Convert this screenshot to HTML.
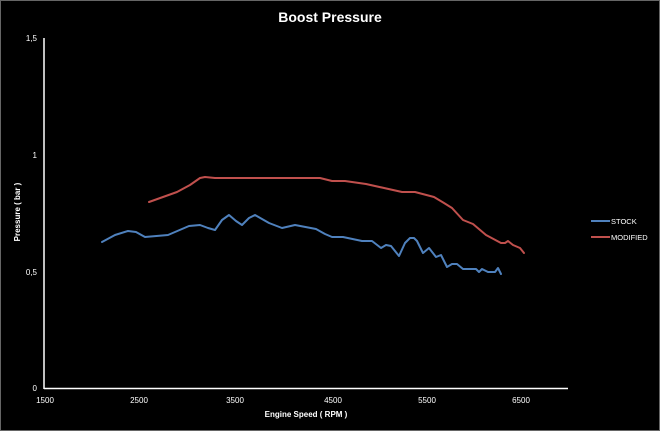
<!DOCTYPE html>
<html><head><style>
body{margin:0;background:#000;}
svg{display:block;font-family:"Liberation Sans",sans-serif;}
</style></head><body>
<svg width="660" height="431" viewBox="0 0 660 431">
<rect x="0" y="0" width="660" height="431" fill="#000"/>
<rect x="0.5" y="0.5" width="659" height="430" fill="none" stroke="#666" stroke-width="1"/>
<text x="330" y="22" fill="#fff" font-size="14" font-weight="bold" text-anchor="middle">Boost Pressure</text>
<line x1="44" y1="38" x2="44" y2="389" stroke="#fff" stroke-width="1.5"/>
<line x1="44" y1="388.5" x2="568" y2="388.5" stroke="#fff" stroke-width="1.5"/>
<g fill="#fff" font-size="8" text-anchor="end">
<text x="37" y="41">1,5</text>
<text x="37" y="158">1</text>
<text x="37" y="275">0,5</text>
<text x="37" y="391">0</text>
</g>
<g fill="#fff" font-size="8" text-anchor="middle">
<text x="45" y="403">1500</text>
<text x="139" y="403">2500</text>
<text x="235" y="403">3500</text>
<text x="333" y="403">4500</text>
<text x="427" y="403">5500</text>
<text x="521" y="403">6500</text>
</g>
<text x="306" y="417" fill="#fff" font-size="8" font-weight="bold" text-anchor="middle">Engine Speed ( RPM )</text>
<text transform="translate(20,212) rotate(-90)" fill="#fff" font-size="8" font-weight="bold" text-anchor="middle">Pressure ( bar )</text>
<polyline fill="none" stroke="#c0504d" stroke-width="2" stroke-linejoin="round" stroke-linecap="round" points="149,202 177,192 190,185 200,178 205,177 215,178 320,178 332,181 345,181 366,184 402,192 415,192 434,197 444,203 452,208 463,220 473,224 486,235 501,243 505,243 508,241 513,245 520,248 524,253"/>
<polyline fill="none" stroke="#4f81bd" stroke-width="2" stroke-linejoin="round" stroke-linecap="round" points="102,242 115,235 128,231 136,232 145,237 168,235 189,226 200,225 208,228 215,230 222,220 229,215 236,221 242,225 249,218 255,215 262,219 269,223 282,228 295,225 316,229 325,234 332,237 343,237 362,241 372,241 381,248 386,245 391,246 399,256 405,243 410,238 414,238 417,241 423,253 429,248 436,257 441,255 447,267 452,264 457,264 463,269 476,269 479,272 482,269 488,272 495,272 498,268 501,274"/>
<line x1="591" y1="221" x2="610" y2="221" stroke="#4f81bd" stroke-width="2"/>
<text x="611" y="224" fill="#fff" font-size="7.5">STOCK</text>
<line x1="591" y1="237" x2="610" y2="237" stroke="#c0504d" stroke-width="2"/>
<text x="611" y="240" fill="#fff" font-size="7.5">MODIFIED</text>
</svg>
</body></html>
